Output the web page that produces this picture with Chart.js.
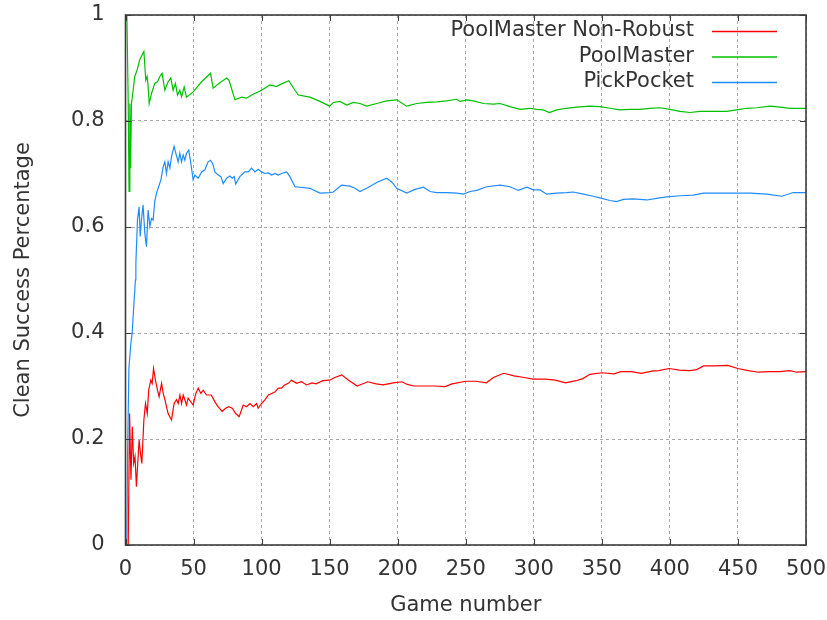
<!DOCTYPE html>
<html>
<head>
<meta charset="utf-8">
<script src="https://cdn.jsdelivr.net/npm/chart.js@4/dist/chart.umd.min.js"></script>
<style>
  html, body { margin: 0; padding: 0; background: #fff; }
  #wrap { width: 827px; height: 620px; }
</style>
</head>
<body>
<div id="wrap"><canvas id="canvas_clean" width="827" height="620"></canvas></div>
<script>
// series labels (legend order)
var seriesNames = [ "PoolMaster Non-Robust", "PoolMaster", "PickPocket" ];
var seriesColors = [ "#ff0000", "#00c000", "#1e8cff" ];

// axis ticks
var xTicks = [ 0, 50, 100, 150, 200, 250, 300, 350, 400, 450, 500 ];
var yTicks = [ 0, 0.2, 0.4, 0.6, 0.8, 1 ];
var yTickLabels = [ "0", "0.2", "0.4", "0.6", "0.8", "1" ];

// PoolMaster Non-Robust (red)
var redGames = [ 1, 2, 3, 4, 5, 6, 7, 8, 10, 11, 12, 13.5, 14.7, 16, 17, 18.6, 19.6, 20.6, 22, 23.5,
	24.7, 26.5, 27.7, 29, 31.3, 33.8, 35.7, 37.5, 38.7, 40, 41.2, 42.4, 43.6, 44.8, 46, 48, 49.7,
	51.7, 53.4, 55.4, 57.1, 59.5, 63, 65.7, 68, 71, 73.5, 76, 78.4, 81, 83.5, 86.5, 89, 91.4, 93.8,
	96.3, 97.5, 100, 102.4, 105, 107.4, 110, 112.2, 114.7, 117, 119.6, 122, 125.7, 129.4, 133, 137,
	140, 145, 150, 153.8, 158.9, 163.9, 170.3, 177.9, 184.2, 189.2, 196.8, 203.2, 207, 212, 219.6,
	227.2, 234.8, 239.9, 250, 257.6, 265.2, 270.3, 277.9, 285.5, 293.1, 299.4, 308.3, 315.8, 323.4,
	331, 336.1, 341.2, 350, 358.9, 364, 371.6, 379.1, 386.7, 391.8, 399.4, 407, 414.6, 419.7, 424.7,
	432.3, 442.4, 450, 457.6, 465.2, 472.8, 480.4, 488, 493.1, 500 ];
var redVals = [ 0, 0, 0.248, 0.123, 0.223, 0.154, 0.167, 0.110, 0.198, 0.173, 0.154, 0.236, 0.267, 0.248,
	0.292, 0.311, 0.305, 0.333, 0.311, 0.292, 0.280, 0.305, 0.286, 0.274, 0.248, 0.236, 0.267, 0.274,
	0.267, 0.283, 0.267, 0.283, 0.274, 0.264, 0.277, 0.270, 0.264, 0.286, 0.296, 0.286, 0.292, 0.283,
	0.283, 0.270, 0.261, 0.252, 0.258, 0.261, 0.258, 0.248, 0.242, 0.264, 0.261, 0.267, 0.261, 0.267,
	0.258, 0.267, 0.274, 0.283, 0.286, 0.289, 0.296, 0.296, 0.302, 0.305, 0.311, 0.305, 0.308, 0.302,
	0.306, 0.304, 0.310, 0.311, 0.316, 0.321, 0.311, 0.300, 0.308, 0.304, 0.302, 0.306, 0.308, 0.303,
	0.300, 0.300, 0.300, 0.299, 0.304, 0.309, 0.309, 0.306, 0.316, 0.324, 0.319, 0.316, 0.313, 0.313,
	0.311, 0.306, 0.310, 0.314, 0.322, 0.325, 0.323, 0.327, 0.327, 0.324, 0.328, 0.329, 0.333, 0.330,
	0.329, 0.331, 0.338, 0.338, 0.339, 0.333, 0.329, 0.326, 0.327, 0.327, 0.329, 0.326, 0.327 ];

// PoolMaster (green)
var greenGames = [ 1, 2, 2.6, 3.2, 3.7, 4.4, 5.6, 6.8, 8.5, 10.4, 13.5, 14.9, 15.9, 16.6, 17.4, 19.1,
	21.5, 23.5, 25.2, 26.9, 28.9, 31.3, 33.3, 35, 36.7, 38.2, 39.9, 41.2, 43.1, 44.8, 49.7, 55.9, 62.5,
	64.4, 68.1, 74.3, 76, 80.4, 85.3, 89, 92.6, 100, 106.1, 111, 114.7, 120, 124.5, 127, 135.5, 142.9,
	150, 152.7, 157.6, 162.5, 167.4, 172.3, 177.2, 184.6, 191.9, 199.3, 206.6, 214, 221.3, 228.7, 236,
	243.4, 245.8, 250.7, 255.6, 263, 270.3, 275.2, 282.5, 289.9, 297.2, 302.1, 307, 311.4, 316.8,
	324.1, 331.5, 341.3, 348.6, 356, 363.3, 370.7, 378, 385.4, 392.7, 400.1, 407.4, 414.8, 422.1,
	431.9, 441.7, 449.1, 456.4, 463.8, 473.6, 481, 488.3, 500 ];
var greenVals = [ 1.0, 0.836, 0.667, 0.833, 0.711, 0.833, 0.858, 0.884, 0.896, 0.915, 0.931, 0.877, 0.884,
	0.866, 0.833, 0.852, 0.871, 0.874, 0.884, 0.890, 0.858, 0.874, 0.881, 0.858, 0.871, 0.849, 0.858,
	0.846, 0.864, 0.845, 0.855, 0.874, 0.890, 0.862, 0.870, 0.881, 0.877, 0.840, 0.845, 0.843, 0.849,
	0.858, 0.868, 0.865, 0.870, 0.876, 0.858, 0.849, 0.845, 0.837, 0.828, 0.835, 0.837, 0.830, 0.835,
	0.833, 0.828, 0.833, 0.838, 0.840, 0.828, 0.833, 0.835, 0.836, 0.838, 0.841, 0.837, 0.840, 0.838,
	0.833, 0.832, 0.833, 0.827, 0.822, 0.824, 0.822, 0.821, 0.816, 0.821, 0.824, 0.826, 0.828, 0.827,
	0.824, 0.821, 0.822, 0.822, 0.824, 0.825, 0.822, 0.818, 0.816, 0.818, 0.818, 0.818, 0.821, 0.824,
	0.825, 0.828, 0.826, 0.824, 0.824 ];

// PickPocket (blue)
var blueGames = [ 1, 1.5, 2.5, 3.9, 4.9, 6.3, 7.3, 7.6, 8.8, 10, 10.8, 11.7, 12.9, 14.2, 15.4, 16.6, 17.9,
	19.1, 20.3, 21.5, 22.8, 24, 26, 27.7, 28.9, 30.1, 31.3, 32.6, 33.8, 35.7, 37, 38.7, 39.9, 41.2,
	42.4, 43.6, 44.8, 46.5, 48, 49.7, 51, 53.4, 55.9, 58.3, 60.7, 62.5, 64, 65.7, 68.1, 70.1, 71.8,
	74.3, 76.7, 78.4, 79.9, 81, 84, 87.7, 90.2, 92.6, 95.1, 97.5, 100, 102.4, 104.9, 107.4, 109.8,
	112.2, 114.7, 118.4, 120.8, 124.5, 128.2, 135.5, 142.9, 149.9, 152.7, 158.8, 164.9, 168.6, 172.3,
	177.2, 184.6, 191.9, 195.6, 199.3, 206.6, 212.7, 218.9, 223.8, 228.7, 236, 243.4, 248.3, 253.2,
	258.1, 265.4, 275.2, 282.5, 288.7, 294.8, 299.7, 304.6, 309.5, 316.8, 324.1, 329, 336.4, 343.7,
	349.9, 356, 360.9, 365.8, 373.2, 383, 390.3, 397.7, 407.5, 417.3, 424.6, 434.4, 446.6, 458.9,
	471.1, 482.2, 490.7, 500 ];
var blueVals = [ 0, 0.167, 0.333, 0.38, 0.40, 0.46, 0.50, 0.53, 0.613, 0.638, 0.582, 0.613, 0.642, 0.588,
	0.563, 0.632, 0.601, 0.616, 0.613, 0.648, 0.664, 0.673, 0.689, 0.714, 0.723, 0.701, 0.723, 0.711,
	0.733, 0.752, 0.739, 0.723, 0.739, 0.723, 0.736, 0.726, 0.739, 0.745, 0.720, 0.689, 0.698, 0.692,
	0.704, 0.708, 0.723, 0.726, 0.720, 0.704, 0.698, 0.695, 0.682, 0.692, 0.696, 0.692, 0.695, 0.681,
	0.695, 0.704, 0.704, 0.711, 0.704, 0.709, 0.704, 0.701, 0.702, 0.698, 0.701, 0.698, 0.701, 0.704,
	0.695, 0.676, 0.675, 0.673, 0.664, 0.665, 0.666, 0.679, 0.677, 0.673, 0.667, 0.673, 0.684, 0.692,
	0.685, 0.673, 0.664, 0.671, 0.675, 0.667, 0.665, 0.665, 0.664, 0.662, 0.667, 0.669, 0.676, 0.679,
	0.676, 0.669, 0.675, 0.670, 0.670, 0.662, 0.664, 0.665, 0.666, 0.662, 0.658, 0.654, 0.650, 0.648,
	0.652, 0.653, 0.651, 0.654, 0.657, 0.659, 0.660, 0.664, 0.664, 0.664, 0.664, 0.662, 0.658, 0.665,
	0.665 ];

var textColor = "#333333";
var fontFamily = "'DejaVu Sans', Verdana, sans-serif";

function toPoints(games, vals) {
	return games.map(function(g, i) {
		return { x : g, y : vals[i] };
	});
}

// gnuplot-like frame: border, inward tick marks, right-aligned key
var framePlugin = {
	id : "frame",
	afterDatasetsDraw : function(chart) {
		var ctx = chart.ctx;
		var a = chart.chartArea;
		var xs = chart.scales.x, ys = chart.scales.y;
		ctx.save();
		ctx.strokeStyle = "#3c3c3c";
		ctx.lineWidth = 1;
		ctx.beginPath();
		xTicks.forEach(function(v) {
			var px = Math.round(xs.getPixelForValue(v)) + 0.5;
			ctx.moveTo(px, a.bottom);
			ctx.lineTo(px, a.bottom - 6);
			ctx.moveTo(px, a.top);
			ctx.lineTo(px, a.top + 6);
		});
		yTicks.forEach(function(v) {
			var py = Math.round(ys.getPixelForValue(v)) + 0.5;
			ctx.moveTo(a.left, py);
			ctx.lineTo(a.left + 6, py);
			ctx.moveTo(a.right, py);
			ctx.lineTo(a.right - 6, py);
		});
		ctx.stroke();
		ctx.lineWidth = 1.6;
		ctx.strokeRect(a.left, a.top, a.right - a.left, a.bottom - a.top);

		// key
		ctx.font = "21px " + fontFamily;
		ctx.textAlign = "right";
		ctx.textBaseline = "middle";
		chart.data.datasets.forEach(function(ds, i) {
			var y = 31 + i * 25.5;
			ctx.fillStyle = textColor;
			ctx.fillText(ds.label, 694, y);
			ctx.strokeStyle = ds.borderColor;
			ctx.lineWidth = 1.3;
			ctx.beginPath();
			ctx.moveTo(712, y + 0.5);
			ctx.lineTo(777, y + 0.5);
			ctx.stroke();
		});
		ctx.restore();
	}
};

var cleanChart = new Chart(document.getElementById("canvas_clean"), {
	type : "line",
	data : {
		datasets : [ {
			label : seriesNames[0],
			data : toPoints(redGames, redVals),
			borderColor : seriesColors[0],
			order : 2
		}, {
			label : seriesNames[1],
			data : toPoints(greenGames, greenVals),
			borderColor : seriesColors[1],
			order : 1
		}, {
			label : seriesNames[2],
			data : toPoints(blueGames, blueVals),
			borderColor : seriesColors[2],
			order : 0
		} ]
	},
	options : {
		responsive : false,
		animation : false,
		devicePixelRatio : 1,
		layout : {
			padding : 0
		},
		elements : {
			point : { radius : 0 },
			line : { borderWidth : 1.2, tension : 0, fill : false }
		},
		plugins : {
			legend : { display : false },
			tooltip : { enabled : false }
		},
		scales : {
			x : {
				type : "linear",
				min : 0,
				max : 500,
				afterFit : function(scale) {
					scale.height = 75;
					scale.paddingLeft = 0;
					scale.paddingRight = 21;
				},
				afterBuildTicks : function(scale) {
					scale.ticks = xTicks.map(function(v) {
						return { value : v };
					});
				},
				grid : {
					color : "#a8a8a8",
					lineWidth : 1,
					drawTicks : false
				},
				border : { display : false, dash : [ 3, 3 ] },
				ticks : {
					padding : 12,
					color : textColor,
					font : { family : fontFamily, size : 21 },
					maxRotation : 0,
					autoSkip : false
				},
				title : {
					display : true,
					text : "Game number",
					color : textColor,
					font : { family : fontFamily, size : 21 },
					padding : { top : 2, bottom : 2 }
				}
			},
			y : {
				type : "linear",
				min : 0,
				max : 1,
				afterFit : function(scale) {
					scale.width = 125.5;
					scale.paddingTop = 15;
					scale.paddingBottom = 0;
				},
				afterBuildTicks : function(scale) {
					scale.ticks = yTicks.map(function(v) {
						return { value : v };
					});
				},
				grid : {
					color : "#a8a8a8",
					lineWidth : 1,
					drawTicks : false
				},
				border : { display : false, dash : [ 3, 3 ] },
				ticks : {
					padding : 21,
					color : textColor,
					font : { family : fontFamily, size : 21 },
					callback : function(value, index) {
						return yTickLabels[index];
					}
				},
				title : {
					display : true,
					text : "Clean Success Percentage",
					color : textColor,
					font : { family : fontFamily, size : 21 },
					padding : { top : 11, bottom : 11 }
				}
			}
		}
	},
	plugins : [ framePlugin ]
});
</script>
</body>
</html>
